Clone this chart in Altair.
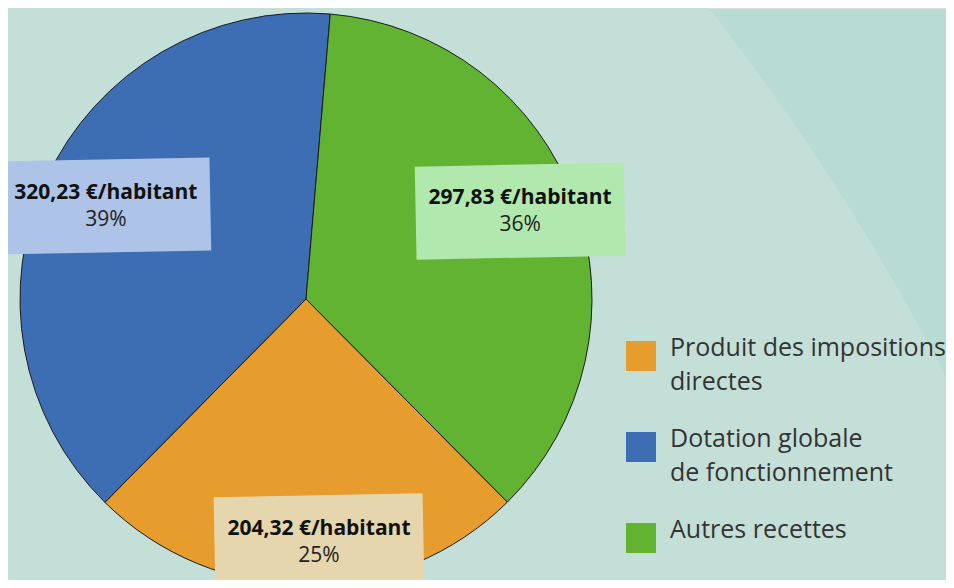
import math
import altair as alt
import pandas as pd

# ---- data -------------------------------------------------------------
categories = [
    "Produit des impositions\ndirectes",
    "Dotation globale\nde fonctionnement",
    "Autres recettes",
]
values = [204.32, 320.23, 297.83]
value_labels = ["204,32 €/habitant", "320,23 €/habitant", "297,83 €/habitant"]
pct_labels = ["25%", "39%", "36%"]
# clockwise drawing order of the slices
pie_order = [
    "Autres recettes",
    "Produit des impositions\ndirectes",
    "Dotation globale\nde fonctionnement",
]
slice_colors = ["#E79C2E", "#3D6EB4", "#63B332"]
box_colors = ["#E6D6AE", "#AEC3E8", "#B0E8AE"]

df = pd.DataFrame(
    {
        "category": categories,
        "value": values,
        "value_label": value_labels,
        "pct_label": pct_labels,
    }
)
df["order"] = [pie_order.index(c) for c in categories]

# ---- layout -----------------------------------------------------------
W, H = 938, 572
CX, CY, R = 298, 291, 286
START = math.radians(4.86)
LABEL_START = math.radians(3.12)
# labels sit on an ellipse around the pie centre
LCX, LCY, RX, RY = 304, 292.4, 224, 241.5
TWO_PI = 2 * math.pi

BG_DARK = "#B8DCD3"
BG_LIGHT = "#C3DFD8"

# background big soft circle
bg = (
    alt.Chart(pd.DataFrame({"k": [0]}))
    .mark_arc(radius=2328, theta=0, theta2=TWO_PI, color=BG_LIGHT)
    .encode(x=alt.value(-1130), y=alt.value(1438))
)

pie = (
    alt.Chart(df)
    .mark_arc(radius=R, stroke="#1a1a1a", strokeWidth=1)
    .encode(
        theta=alt.Theta(
            "value:Q", stack=True, scale=alt.Scale(range=[START, START + TWO_PI])
        ),
        color=alt.Color(
            "category:N",
            scale=alt.Scale(domain=categories, range=slice_colors),
            legend=alt.Legend(
                title=None,
                orient="none",
                legendX=618,
                legendY=333,
                symbolType="square",
                symbolSize=900,
                symbolStrokeWidth=0,
                symbolOpacity=1,
                labelFont="Open Sans",
                labelFontSize=25,
                labelColor="#333333",
                labelLimit=0,
                labelOffset=14,
                labelBaseline="alphabetic",
                labelExpr="split(datum.label, '\\n')",
                rowPadding=32,
                padding=0,
            ),
        ),
        order=alt.Order("order:Q"),
        x=alt.value(CX),
        y=alt.value(CY),
    )
)

base_lbl = (
    alt.Chart(df)
    .transform_window(cum="sum(value)", sort=[{"field": "order"}], frame=[None, 0])
    .transform_joinaggregate(total="sum(value)")
    .transform_calculate(
        ang=f"{LABEL_START} + {TWO_PI} * (datum.cum - datum.value / 2) / datum.total"
    )
    .transform_calculate(
        lx=f"{LCX} + {RX} * sin(datum.ang)",
        ly=f"{LCY} - {RY} * cos(datum.ang)",
    )
)

xy = dict(
    x=alt.X("lx:Q", scale=None, axis=None),
    y=alt.Y("ly:Q", scale=None, axis=None),
)

BOX_PATH = "M-1,-0.445L1,-0.445L1,0.445L-1,0.445Z"
boxes = base_lbl.mark_point(
    shape=BOX_PATH, size=209 * 209, angle=358.9, filled=True, opacity=1, strokeWidth=0
).encode(
    fill=alt.Fill(
        "category:N",
        scale=alt.Scale(domain=categories, range=box_colors),
        legend=None,
    ),
    **xy,
)

bold_txt = base_lbl.mark_text(
    font="Open Sans", fontWeight="bold", fontSize=21, dy=-13, color="#111111"
).encode(text="value_label:N", **xy)

pct_txt = base_lbl.mark_text(
    font="Open Sans", fontSize=21, dy=14, color="#222222"
).encode(text="pct_label:N", **xy)

chart = (
    alt.layer(bg, pie, boxes, bold_txt, pct_txt)
    .resolve_scale(color="independent", fill="independent")
    .properties(
        width=W,
        height=H,
        autosize=alt.AutoSizeParams(type="none"),
        padding=0,
        background=BG_DARK,
    )
    .configure_view(stroke=None)
    .configure(style={"guide-label": {"lineHeight": 34}})
)

chart.save("out.html", embed_options={"renderer": "svg", "actions": False})
